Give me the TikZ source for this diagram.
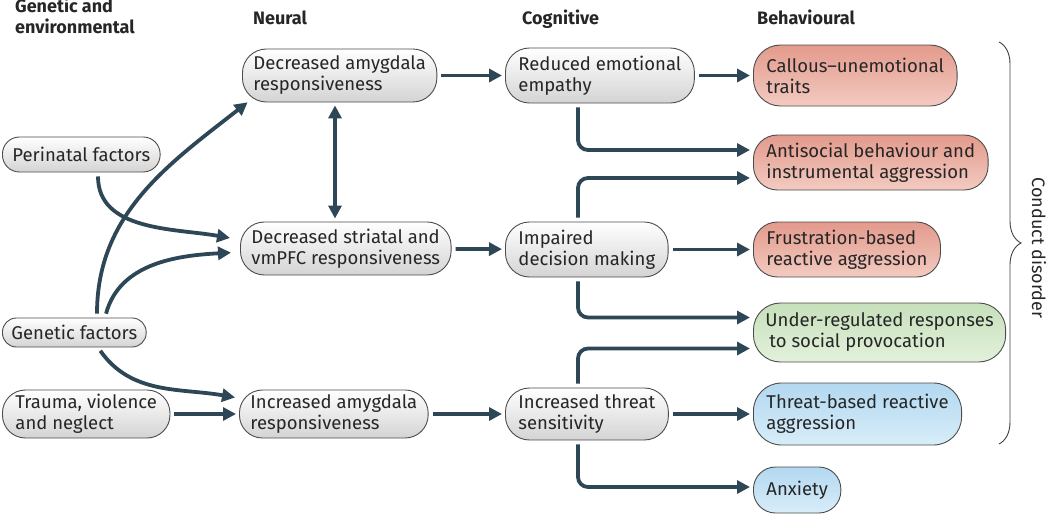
\documentclass[tikz,border=0pt]{standalone}
\usepackage{fontspec}
\setmainfont{Fira Sans}
\usetikzlibrary{arrows.meta,decorations.pathreplacing}
\definecolor{linkc}{HTML}{2E4756}
\definecolor{inkc}{HTML}{262626}
\definecolor{redtop}{HTML}{E39A8C}
\definecolor{redbot}{HTML}{F3CBC1}
\definecolor{greentop}{HTML}{C6E0BA}
\definecolor{greenbot}{HTML}{E3F1DC}
\definecolor{bluetop}{HTML}{B2D8F0}
\definecolor{bluebot}{HTML}{D8EDF9}
\begin{document}
\begin{tikzpicture}[x=1pt,y=-1pt,
  box/.style={rectangle, rounded corners=24pt, draw=black!70, line width=0.9pt, align=left,
    inner xsep=13pt, inner ysep=2pt, anchor=west, text=inkc,
    font=\fontsize{18.5}{21}\selectfont},
  greybox/.style={top color=white, bottom color=black!17},
  redbox/.style={top color=redtop, bottom color=redbot},
  greenbox/.style={top color=greentop, bottom color=greenbot},
  bluebox/.style={top color=bluetop, bottom color=bluebot},
  head/.style={font=\bfseries\fontsize{18}{21}\selectfont, text=inkc, inner sep=0pt, align=left},
  link/.style={line width=3.8pt, draw=linkc, -{Triangle[length=13pt,width=13pt]},
    shorten <=4pt, shorten >=3pt},
  elbow/.style={link, rounded corners=10pt}]
\useasboundingbox (0,0) rectangle (1050,514);
% column headings
\node[head, anchor=base west] (hgen) at (15,34) {Genetic and\\environmental};
\node[head, anchor=base west] (hneu) at (253,24) {Neural};
\node[head, anchor=base west] (hcog) at (522,24) {Cognitive};
\node[head, anchor=base west] (hbeh) at (757,24) {Behavioural};
% genetic and environmental
\node[box, greybox, minimum height=35pt, rounded corners=17pt, inner xsep=10pt] (per) at (2,154.5) {Perinatal factors};
\node[box, greybox, minimum height=29pt, rounded corners=14pt, inner xsep=9pt] (gen) at (2,332.5) {Genetic factors};
\node[box, greybox, minimum height=48pt, rounded corners=23pt] (tra) at (2,414) {Trauma, violence\\and neglect};
% neural
\node[box, greybox, minimum height=53pt, inner xsep=11pt] (da) at (242,75.5) {Decreased amygdala\\responsiveness};
\node[box, greybox, minimum height=53pt, inner xsep=11pt] (ds) at (240,248.5) {Decreased striatal and\\vmPFC responsiveness};
\node[box, greybox, minimum height=48pt, inner xsep=11pt, rounded corners=23pt] (ia) at (239,414) {Increased amygdala\\responsiveness};
% cognitive
\node[box, greybox, minimum height=55pt] (re) at (505,75.5) {Reduced emotional\\empathy};
\node[box, greybox, minimum height=55pt] (id) at (505,249.5) {Impaired\\decision making};
\node[box, greybox, minimum height=52pt] (it) at (505,414) {Increased threat\\sensitivity};
% behavioural
\node[box, redbox, minimum height=61pt, rounded corners=27pt] (cu) at (753,75.5) {Callous–unemotional\\traits};
\node[box, redbox, minimum height=55pt] (ab) at (753,162.5) {Antisocial behaviour and\\instrumental aggression};
\node[box, redbox, minimum height=55pt] (fb) at (753,249.5) {Frustration-based\\reactive aggression};
\node[box, greenbox, minimum height=59pt, inner xsep=12pt, rounded corners=27pt] (ur) at (753,332.5) {Under-regulated responses\\\hspace*{4pt}to social provocation};
\node[box, bluebox, minimum height=62pt, rounded corners=28pt] (tb) at (753,414) {Threat-based reactive\\aggression};
\node[box, bluebox, minimum height=46pt, rounded corners=22pt] (ax) at (753,490) {Anxiety};
% conduct disorder brace
\coordinate (btop) at (999,42);
\coordinate (bbot) at (999,444);
\draw[black!75, line width=0.9pt, decorate, decoration={brace, amplitude=22pt}] (btop) -- (bbot);
\node[font=\fontsize{18}{21}\selectfont, text=inkc, rotate=-90] (cd) at (1039,248) {Conduct disorder};
% inputs
\draw[link] ([xshift=96pt]per.south west) to[out=-90,in=170] ([xshift=-7pt,yshift=10pt]ds.west);
\draw[link] ([xshift=95pt]gen.north west) to[out=90,in=218] ([xshift=8pt,yshift=2pt]da.south west);
\draw[link] ([xshift=103pt]gen.north west) to[out=75,in=183] ([xshift=-6pt,yshift=-4pt]ds.west);
\draw[link] ([xshift=96pt]gen.south west) to[out=-55,in=170] ([xshift=-1pt,yshift=16pt]ia.west);
\draw[link] (tra.east) -- (ia.west);
% neural to cognitive
\draw[link, shorten <=3pt, {Triangle[length=13pt,width=13pt]}-{Triangle[length=13pt,width=13pt]}]
  ([xshift=93pt]da.south west) -- ([xshift=95pt]ds.north west);
\draw[link] (da) -- (re);
\draw[link] (ds) -- (id);
\draw[link] (ia) -- (it);
% cognitive to behavioural
\draw[link] (re) -- (cu);
\draw[link] (id) -- (fb);
\draw[link] (it) -- (tb);
\draw[elbow] ([xshift=73pt]re.south west) |- ([yshift=12.5pt]ab.west);
\draw[elbow] ([xshift=73pt]id.north west) |- ([yshift=-15.5pt]ab.west);
\draw[elbow] ([xshift=73pt]id.south west) |- ([yshift=15pt]ur.west);
\draw[elbow] ([xshift=73pt]it.north west) |- ([yshift=-16pt]ur.west);
\draw[elbow] ([xshift=73pt]it.south west) |- ([yshift=3pt]ax.west);
\end{tikzpicture}
\end{document}
